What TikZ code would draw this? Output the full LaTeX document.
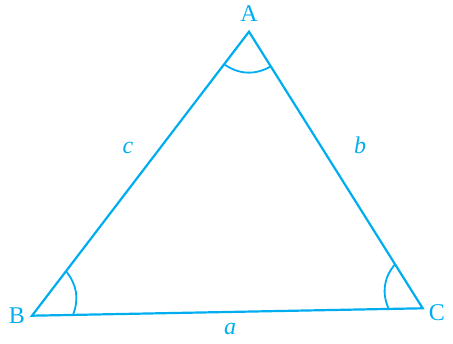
\documentclass[tikz,border=0pt]{standalone}
\usepackage{fontspec}
\setmainfont{Liberation Serif}
\usetikzlibrary{calc}
\definecolor{cy}{RGB}{0,174,239}
\begin{document}
\begin{tikzpicture}[x=1pt,y=1pt,
  side/.style={draw=cy,line width=2.2pt,line join=miter},
  arcl/.style={draw=cy,line width=1.8pt},
  lbl/.style={text=cy,font=\fontsize{24}{26}\selectfont,inner sep=0pt},
  slbl/.style={text=cy,font=\fontsize{24}{26}\selectfont\itshape,inner sep=0pt}]
\useasboundingbox (0,0) rectangle (453,344);
\coordinate (A) at (249,312.3);
\coordinate (B) at (32,28.3);
\coordinate (C) at (422.7,35.7);
\draw[side] (A) -- (B) -- (C) -- cycle;
% angle marks
\coordinate (ab) at ($(A)!41pt!(B)$);
\coordinate (ac) at ($(A)!41pt!(C)$);
\coordinate (ba) at ($(B)!56pt!(A)$);
\coordinate (bc) at ($(B)!41pt!(C)$);
\coordinate (ca) at ($(C)!52pt!(A)$);
\coordinate (cb) at ($(C)!34pt!(B)$);
\draw[arcl] (ab) to[bend right=32] (ac);
\draw[arcl] (ba) to[bend left=30] (bc);
\draw[arcl] (ca) to[bend right=32] (cb);
% labels
\node[lbl] (lA) at (249,330) {A};
\node[lbl] (lB) at (17,28) {B};
\node[lbl] (lC) at (437,31) {C};
\node[slbl] (lc) at (128,196) {c};
\node[slbl] (lb) at (360,199) {b};
\node[slbl] (la) at (230,15) {a};
\end{tikzpicture}
\end{document}
